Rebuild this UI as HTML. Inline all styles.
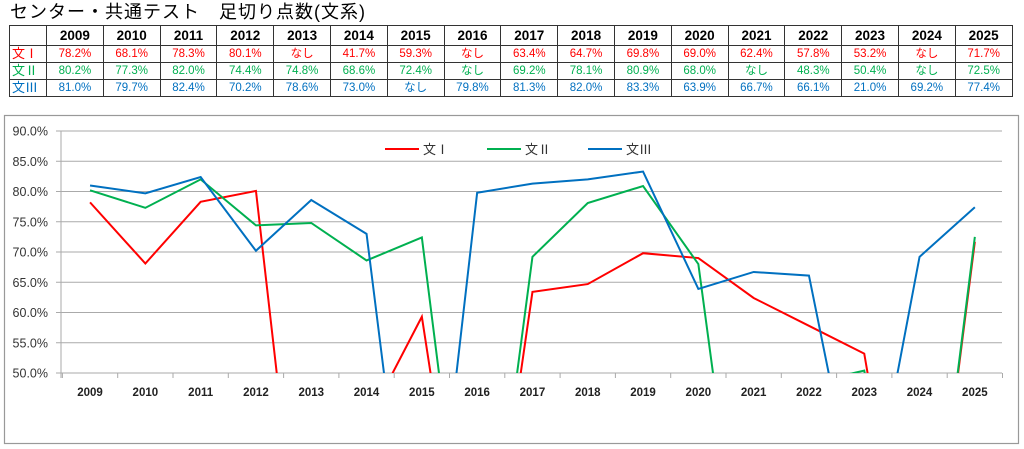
<!DOCTYPE html>
<html style="overflow:hidden;width:1024px;height:449px"><head><meta charset="utf-8"><style>
body{margin:0;width:1024px;height:449px;background:#fff;overflow:hidden;font-family:"Liberation Sans","Noto Sans CJK JP",sans-serif;position:relative;}
#title{position:absolute;left:10px;top:1px;font-size:18px;letter-spacing:1px;color:#000;line-height:22px;}
table{position:absolute;left:9px;top:25px;border-collapse:collapse;table-layout:fixed;}
td{border:1.5px solid #333;padding:0;text-align:center;height:16px;font-size:11.5px;line-height:16px;}
tr.h td{font-weight:bold;font-size:13.5px;height:19px;color:#000;}
td.f{text-align:left;font-size:13px;padding-left:2px;}
.r td{color:#ff0000}.g td{color:#00b050}.b td{color:#0070c0}
</style></head><body>
<div id="title">センター・共通テスト　足切り点数(文系)</div>
<table id="t"></table>
<svg width="1024" height="449" style="position:absolute;left:0;top:0;pointer-events:none" id="s"></svg>
<script>
const yrs=[];for(let y=2009;y<=2025;y++)yrs.push(y);
const R=[78.2,68.1,78.3,80.1,0,41.7,59.3,0,63.4,64.7,69.8,69.0,62.4,57.8,53.2,0,71.7];
const G=[80.2,77.3,82.0,74.4,74.8,68.6,72.4,0,69.2,78.1,80.9,68.0,0,48.3,50.4,0,72.5];
const B=[81.0,79.7,82.4,70.2,78.6,73.0,0,79.8,81.3,82.0,83.3,63.9,66.7,66.1,21.0,69.2,77.4];
let h='<colgroup><col style="width:37px">'+yrs.map(()=>'<col style="width:56.8px">').join('')+'</colgroup>';
h+='<tr class="h"><td></td>'+yrs.map(y=>'<td>'+y+'</td>').join('')+'</tr>';
const f=v=>v===0?'なし':v.toFixed(1)+'%';
h+='<tr class="r"><td class="f">文Ⅰ</td>'+R.map(v=>'<td>'+f(v)+'</td>').join('')+'</tr>';
h+='<tr class="g"><td class="f">文Ⅱ</td>'+G.map(v=>'<td>'+f(v)+'</td>').join('')+'</tr>';
h+='<tr class="b"><td class="f">文Ⅲ</td>'+B.map(v=>'<td>'+f(v)+'</td>').join('')+'</tr>';
document.getElementById('t').innerHTML=h;
const L=62.4,W=55.3,y0=373,k=6.05;
const X=i=>L+W*(i+0.5),Y=v=>y0-(v-50)*k;
let s='<rect x="4.5" y="115.5" width="1014" height="328" fill="none" stroke="#999" stroke-width="1.2"/>';
s+='<defs><clipPath id="c"><rect x="61" y="125" width="943" height="248"/></clipPath></defs>';
for(let i=0;i<=8;i++){const y=Y(50+5*i);s+=`<line x1="56" x2="1002" y1="${y}" y2="${y}" stroke="#aaa" stroke-width="1"/>`;
s+=`<text x="48" y="${y+4.5}" font-size="12.5" text-anchor="end" fill="#333">${(50+5*i).toFixed(1)}%</text>`;}
s+=`<line x1="61" x2="61" y1="131" y2="378" stroke="#aaa"/>`;
for(let i=0;i<=17;i++){const x=L+W*i;s+=`<line x1="${x}" x2="${x}" y1="373" y2="378" stroke="#aaa"/>`;}
yrs.forEach((y,i)=>s+=`<text x="${X(i)}" y="396" font-size="11.5" font-weight="bold" text-anchor="middle" fill="#222">${y}</text>`);
[[R,'#ff0000'],[G,'#00b050'],[B,'#0070c0']].forEach(([d,c])=>{s+=`<polyline clip-path="url(#c)" fill="none" stroke="${c}" stroke-width="2" points="${d.map((v,i)=>X(i)+','+Y(v)).join(' ')}"/>`;});
[['#ff0000',385,'文Ⅰ'],['#00b050',487,'文Ⅱ'],['#0070c0',588,'文Ⅲ']].forEach(([c,x,t])=>{s+=`<line x1="${x}" x2="${x+34}" y1="149" y2="149" stroke="${c}" stroke-width="2"/><text x="${x+38}" y="154" font-size="13" fill="#333">${t}</text>`;});
document.getElementById('s').innerHTML=s;
</script>
</body></html>
